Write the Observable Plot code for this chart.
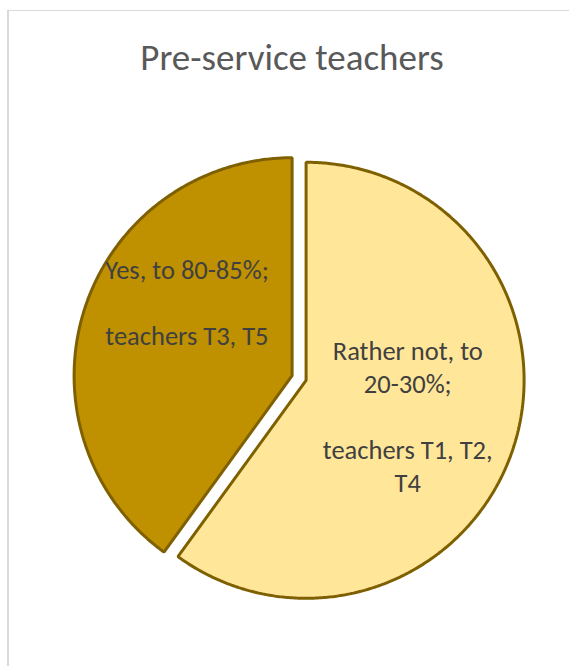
<!DOCTYPE html>
<html>
<head>
<meta charset="utf-8">
<script src="https://cdn.jsdelivr.net/npm/d3@7"></script>
<script src="https://cdn.jsdelivr.net/npm/@observablehq/plot@0.6"></script>
<style>
  html, body { margin: 0; padding: 0; background: #fff; width: 569px; height: 666px; overflow: hidden; }
  #frame { position: absolute; left: 7px; top: 10px; width: 700px; height: 800px;
           border-left: 2px solid #d9d9d9; border-top: 1.5px solid #d9d9d9; pointer-events: none; z-index: 5; }
  #title { height: 100px; box-sizing: border-box; padding-top: 39px; width: 584px; text-align: center; white-space: nowrap;
           font-family: Carlito, Calibri, Lato, sans-serif; font-size: 37px; line-height: 37px; color: #595959; }
  #chart svg { display: block; background: transparent; }
</style>
</head>
<body>
<div id="frame"></div>
<div id="title">Pre-service teachers</div>
<div id="chart"></div>
<script>
// ---- data ----
const categories = ["Rather not, to 20-30%", "Yes, to 80-85%"];
const values = [3, 2]; // number of teachers
const labelTexts = [
  "Rather not, to\n20-30%;\n\nteachers T1, T2,\nT4",
  "Yes, to 80-85%;\n\nteachers T3, T5"
];

// ---- style / layout ----
const colors = ["#FFE699", "#BF9000"];
const strokeColor = "#7F6000";
const W = 569, H = 566;
const cx = 298.6, cy = 277.5, R = 218, explode = 7.35;
const labelNudge = [[-2, 1.5], [-1.5, -41]];

const arcs = d3.pie().sort(null).value(d => d.value)
  .startAngle(0).endAngle(2 * Math.PI)(categories.map((c, i) => ({category: c, value: values[i], label: labelTexts[i], i})));

const polyPts = [];
const labels = [];
for (const a of arcs) {
  const mid = (a.startAngle + a.endAngle) / 2;
  const ox = cx + explode * Math.sin(mid), oy = cy - explode * Math.cos(mid);
  const pt = (ang) => ({category: a.data.category, x: ox + R * Math.sin(ang), y: oy - R * Math.cos(ang)});
  const step = Math.PI / 360;
  for (let t = mid; t < a.endAngle; t += step) polyPts.push(pt(t));
  polyPts.push(pt(a.endAngle));
  polyPts.push({category: a.data.category, x: ox, y: oy});
  for (let t = a.startAngle; t < mid; t += step) polyPts.push(pt(t));
  polyPts.push(pt(mid));
  const n = labelNudge[a.data.i];
  labels.push({category: a.data.category, text: a.data.label,
    x: ox + 0.5 * R * Math.sin(mid) + n[0], y: oy - 0.5 * R * Math.cos(mid) + n[1]});
}

const chart = Plot.plot({
  width: W, height: H,
  margin: 0,
  style: {background: "transparent"},
  x: {domain: [0, W], range: [0, W], axis: null},
  y: {domain: [0, H], range: [0, H], axis: null},
  color: {domain: categories, range: colors},
  marks: [
    Plot.line(polyPts, {x: "x", y: "y", z: "category", fill: "category", stroke: strokeColor,
      strokeWidth: 3, strokeLinejoin: "miter", curve: "linear"}),
    Plot.text(labels, {x: "x", y: "y", text: "text", fill: "#404040", fontSize: 26.5,
      lineHeight: 33 / 26.5, fontFamily: "Carlito, Calibri, Lato, sans-serif", textAnchor: "middle"})
  ]
});
document.getElementById("chart").appendChild(chart);
</script>
</body>
</html>
